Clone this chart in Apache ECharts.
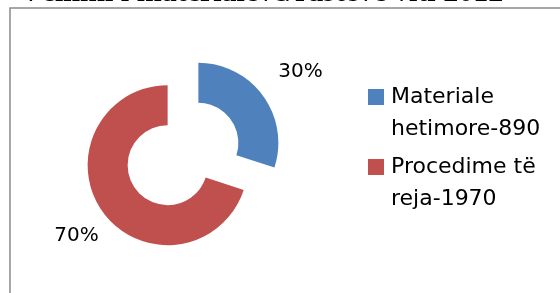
<!DOCTYPE html>
<html>
<head>
<meta charset="utf-8">
<script src="https://cdn.jsdelivr.net/npm/echarts@6/dist/echarts.min.js"></script>
<style>
html,body{margin:0;padding:0;background:#fff;}
#chart{width:560px;height:293px;}
</style>
</head>
<body>
<div id="chart"></div>
<script>
const titleText = 'Vëllimi i materialeve/rasteve viti 2012';
const categories = ['Materiale hetimore-890', 'Procedime të reja-1970'];
const values = [30, 70];
const colors = ['#4F81BD', '#C0504D'];

// label-line tuning per slice (layout only)
const labelLineLen2 = [-23, -34];

const chart = echarts.init(document.getElementById('chart'), null, {renderer: 'canvas'});

const rich = {
  gap: {width: 7},
  sp: {width: 16},
  t: {fontSize: 22, fontFamily: 'DejaVu Sans', color: '#000', lineHeight: 32}
};
categories.forEach((c, i) => {
  rich['sq' + i] = {width: 16, height: 16, backgroundColor: colors[i]};
});

const option = {
  animation: false,
  backgroundColor: '#fff',
  graphic: [
    {
      type: 'rect', silent: true,
      shape: {x: 10, y: 8, width: 700, height: 500},
      style: {fill: 'none', stroke: '#8a8a8a', lineWidth: 1.5}
    },
    {
      type: 'text', silent: true, x: 20, y: 8,
      style: {text: titleText, font: 'bold 30px "Liberation Serif"', fill: '#000', verticalAlign: 'bottom'}
    }
  ],
  legend: {
    orient: 'vertical',
    left: 358,
    top: 81,
    itemGap: 16,
    icon: 'none',
    itemWidth: 0,
    itemHeight: 0,
    selectedMode: false,
    data: categories,
    formatter: function (name) {
      const i = categories.indexOf(name);
      const k = name.lastIndexOf(' ');
      return '{sq' + i + '| }{gap| }{t|' + name.slice(0, k) + '}\n{sp| }{gap| }{t|' + name.slice(k + 1) + '}';
    },
    textStyle: {rich: rich}
  },
  series: [{
    type: 'pie',
    center: [183, 154],
    radius: [40, 80],
    startAngle: 90,
    clockwise: true,
    selectedMode: 'multiple',
    selectedOffset: 19,
    avoidLabelOverlap: false,
    percentPrecision: 0,
    emphasis: {disabled: true},
    label: {
      show: true,
      position: 'outside',
      formatter: '{d}%',
      fontSize: 20,
      fontFamily: 'DejaVu Sans',
      color: '#000',
      distanceToLabelLine: 5
    },
    labelLine: {show: false, length: 41, length2: -27},
    data: categories.map((c, i) => ({
      name: c, value: values[i], selected: true,
      itemStyle: {color: colors[i]},
      labelLine: {show: false, length: 41, length2: labelLineLen2[i]}
    }))
  }]
};
chart.setOption(option);
</script>
</body>
</html>
